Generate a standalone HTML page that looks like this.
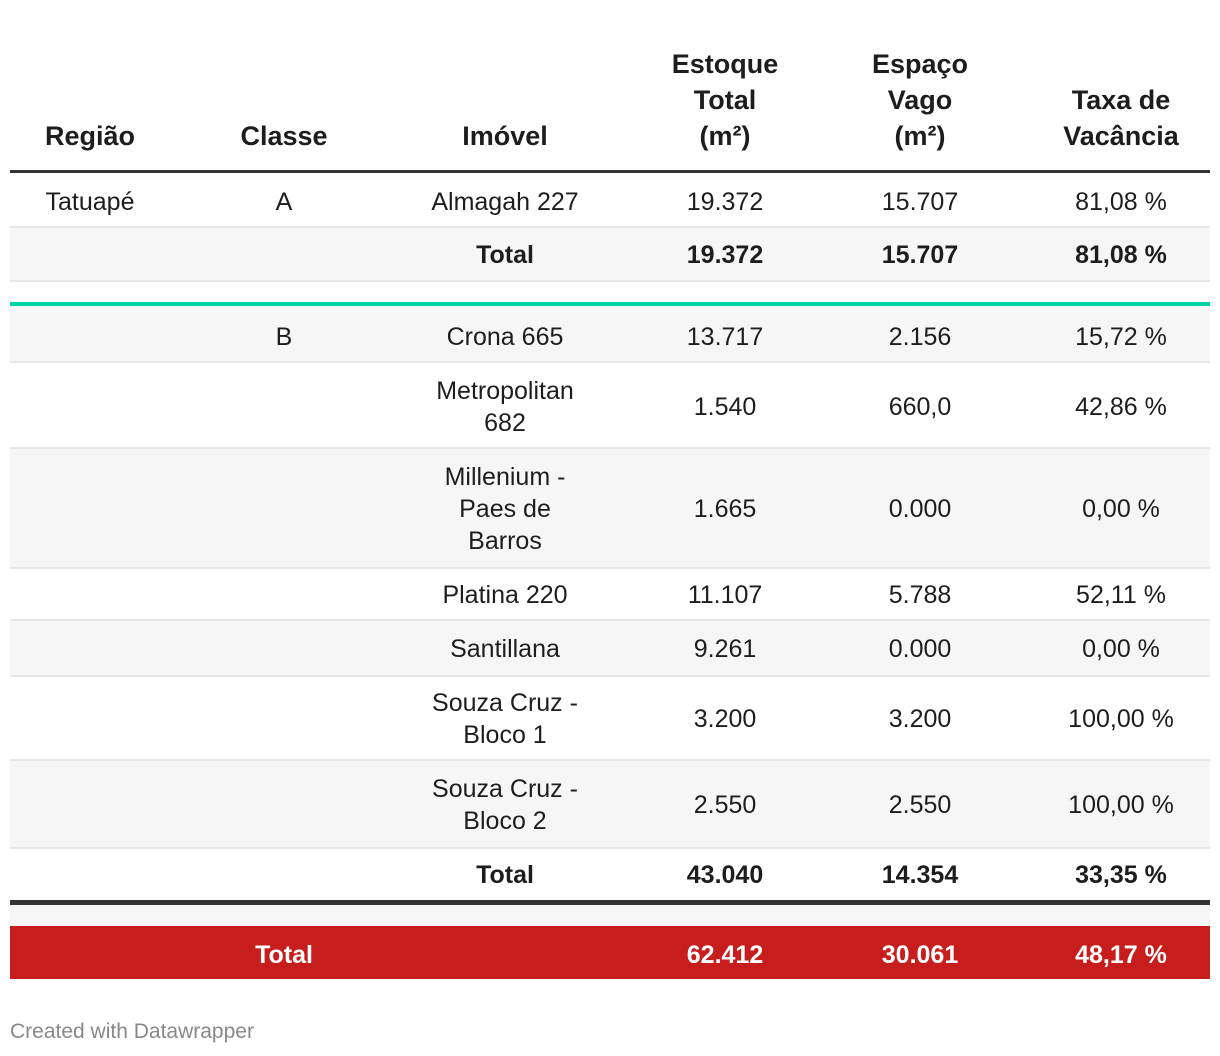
<!DOCTYPE html>
<html><head><meta charset="utf-8"><style>
body{margin:0;width:1220px;height:1056px;background:#fff;font-family:"Liberation Sans",Arial,sans-serif;color:#1d1d1d;position:relative;overflow:hidden}
.r{position:absolute;left:10px;width:1200px}
.c{position:absolute;transform:translate(-50%,-50%);text-align:center;font-size:25px;line-height:32px;white-space:nowrap}
.h{font-weight:bold;font-size:27px;line-height:36px;transform:translate(-50%,-100%)}
.b{font-weight:bold}
.w{color:#fff;font-weight:bold}
</style></head><body>
<div>
<div class="c h" style="left:90px;top:154px">Região</div>
<div class="c h" style="left:284px;top:154px">Classe</div>
<div class="c h" style="left:505px;top:154px">Imóvel</div>
<div class="c h" style="left:725px;top:154px">Estoque<br>Total<br>(m²)</div>
<div class="c h" style="left:920px;top:154px">Espaço<br>Vago<br>(m²)</div>
<div class="c h" style="left:1121px;top:154px">Taxa de<br>Vacância</div>
</div>
<div class="r" style="top:170px;height:3px;background:#333"></div>
<div class="r" style="top:226px;height:2px;background:#e6e6e6"></div>
<div class="r" style="top:228px;height:52px;background:#f6f6f6;border-bottom:2px solid #e6e6e6"></div>
<div class="r" style="top:302px;height:4px;background:#00d4a4"></div>
<div class="r" style="top:306px;height:55px;background:#f6f6f6;border-bottom:2px solid #e6e6e6"></div>
<div class="r" style="top:447px;height:118px;background:#f6f6f6;border-top:2px solid #e6e6e6;border-bottom:2px solid #e6e6e6"></div>
<div class="r" style="top:619px;height:54px;background:#f6f6f6;border-top:2px solid #e6e6e6;border-bottom:2px solid #e6e6e6"></div>
<div class="r" style="top:759px;height:86px;background:#f6f6f6;border-top:2px solid #e6e6e6;border-bottom:2px solid #e6e6e6"></div>
<div class="r" style="top:900px;height:5px;background:#333"></div>
<div class="r" style="top:905px;height:21px;background:#f6f6f6"></div>
<div class="r" style="top:926px;height:53px;background:#c71e1d"></div>

<div id="rows"></div>
<div style="position:absolute;left:10px;top:1020px;font-size:21px;color:#888">Created with Datawrapper</div>
<script>
const xs=[90,284,505,725,920,1121];
const rows=[
[202,"",["Tatuapé","A","Almagah 227","19.372","15.707","81,08 %"]],
[255,"b",["","","Total","19.372","15.707","81,08 %"]],
[337,"",["","B","Crona 665","13.717","2.156","15,72 %"]],
[407,"",["","","Metropolitan<br>682","1.540","660,0","42,86 %"]],
[509,"",["","","Millenium -<br>Paes de<br>Barros","1.665","0.000","0,00 %"]],
[595,"",["","","Platina 220","11.107","5.788","52,11 %"]],
[649,"",["","","Santillana","9.261","0.000","0,00 %"]],
[719,"",["","","Souza Cruz -<br>Bloco 1","3.200","3.200","100,00 %"]],
[805,"",["","","Souza Cruz -<br>Bloco 2","2.550","2.550","100,00 %"]],
[875,"b",["","","Total","43.040","14.354","33,35 %"]],
[955,"w",["","Total","","62.412","30.061","48,17 %"]]
];
const host=document.getElementById('rows');
rows.forEach(([y,cls,cells])=>{cells.forEach((t,i)=>{if(!t)return;const d=document.createElement('div');d.className='c '+cls;d.style.left=xs[i]+'px';d.style.top=y+'px';d.innerHTML=t;


host.appendChild(d);});});
</script>
</body></html>
